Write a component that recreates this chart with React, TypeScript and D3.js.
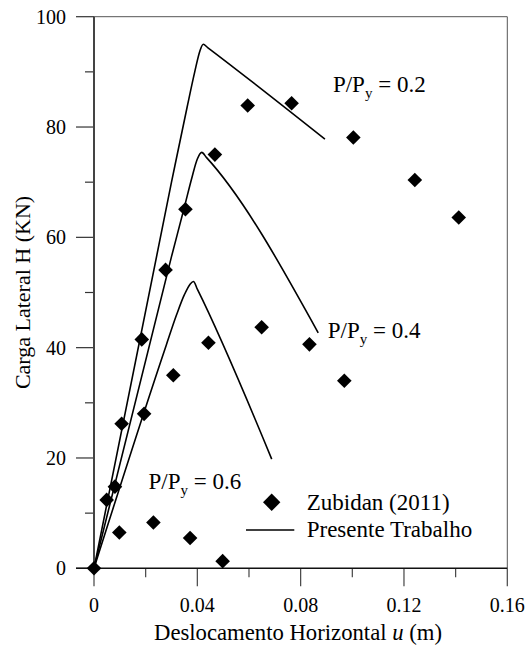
import React from "react";
import * as d3 from "d3";

// Zubidan (2011) experimental points: displacement u (m) and lateral load H (kN)
const zubidanU = [
  0, 0.0049, 0.0081, 0.0098, 0.0107, 0.0185, 0.0194, 0.023, 0.0277, 0.0307,
  0.0354, 0.0372, 0.0443, 0.0468, 0.0498, 0.0595, 0.0649, 0.0765, 0.0834,
  0.0969, 0.1004, 0.1242, 0.1412,
];
const zubidanH = [
  0, 12.4, 14.8, 6.5, 26.2, 41.5, 28.0, 8.3, 54.1, 35.0, 65.1, 5.5, 40.9, 75.0,
  1.3, 83.9, 43.7, 84.3, 40.6, 34.0, 78.1, 70.4, 63.6,
];

// Numerical curves (Presente Trabalho) for each axial load ratio
const curve02U = [0, 0.03, 0.036, 0.039, 0.041, 0.0423, 0.044, 0.0894];
const curve02H = [0, 70, 83.5, 90, 93.8, 95, 94.4, 77.8];
const curve04U = [0, 0.03, 0.035, 0.038, 0.04, 0.0417, 0.0435, 0.0868];
const curve04H = [0, 56.5, 65.5, 71, 74.2, 75.4, 74.5, 42.7];
const curve06U = [0, 0.028, 0.032, 0.035, 0.0372, 0.0385, 0.04, 0.0688];
const curve06H = [0, 40.5, 46, 49.6, 51.5, 52.0, 50.6, 19.8];

const xTicks = [0, 0.04, 0.08, 0.12, 0.16];
const xMinor = [0.02, 0.06, 0.1, 0.14];
const yTicks = [0, 20, 40, 60, 80, 100];
const yMinor = [10, 30, 50, 70, 90];

const ratioLabels = [
  { value: "0.2", u: 0.0925, h: 86.3 },
  { value: "0.4", u: 0.0905, h: 41.7 },
  { value: "0.6", u: 0.0211, h: 14.3 },
];

const W = 527;
const H = 649;
const left = 94;
const right = 507.3;
const top = 16.7;
const bottom = 568.3;
const FONT = "'Liberation Serif', 'Times New Roman', serif";

export default function App() {
  const x = d3.scaleLinear().domain([0, 0.16]).range([left, right]);
  const y = d3.scaleLinear().domain([0, 100]).range([bottom, top]);

  const line = d3
    .line<[number, number]>()
    .x((d) => x(d[0]))
    .y((d) => y(d[1]))
    .curve(d3.curveMonotoneX);

  const curves = [
    d3.zip(curve02U, curve02H) as [number, number][],
    d3.zip(curve04U, curve04H) as [number, number][],
    d3.zip(curve06U, curve06H) as [number, number][],
  ];

  const diamond = (cx: number, cy: number, r: number) =>
    `M${cx},${cy - r}L${cx + r},${cy}L${cx},${cy + r}L${cx - r},${cy}Z`;

  return (
    <svg
      width={W}
      height={H}
      style={{ position: "absolute", left: 0, top: 0, background: "#fff", fontFamily: FONT }}
    >
      {/* frame */}
      <line x1={left} x2={right} y1={top} y2={top} stroke="#555" strokeWidth={1} />
      <line x1={right} x2={right} y1={top} y2={bottom} stroke="#555" strokeWidth={1} />

      {/* y ticks */}
      {yTicks.map((t) => (
        <g key={"yt" + t}>
          <line x1={left - 18} x2={left} y1={y(t)} y2={y(t)} stroke="#333" strokeWidth={1.2} />
          <text x={66} y={y(t)} dy="0.35em" textAnchor="end" fontSize={20} fill="#000">
            {t}
          </text>
        </g>
      ))}
      {yMinor.map((t) => (
        <line key={"ym" + t} x1={left - 9} x2={left} y1={y(t)} y2={y(t)} stroke="#333" strokeWidth={1.2} />
      ))}

      {/* x ticks */}
      {xTicks.map((t) => (
        <g key={"xt" + t}>
          <line x1={x(t)} x2={x(t)} y1={bottom} y2={bottom + 18} stroke="#444" strokeWidth={1.2} />
          <text x={x(t)} y={612} textAnchor="middle" fontSize={20} fill="#000">
            {t === 0 ? "0" : d3.format(".2f")(t)}
          </text>
        </g>
      ))}
      {xMinor.map((t) => (
        <line key={"xm" + t} x1={x(t)} x2={x(t)} y1={bottom} y2={bottom + 9} stroke="#444" strokeWidth={1.2} />
      ))}

      {/* axes */}
      <line x1={left} x2={left} y1={top} y2={bottom} stroke="#444" strokeWidth={2} />
      <line x1={left - 18} x2={right} y1={bottom} y2={bottom} stroke="#111" strokeWidth={1.4} />

      {/* axis titles */}
      <text x={298} y={640} textAnchor="middle" fontSize={22.7} fill="#000">
        Deslocamento Horizontal <tspan fontStyle="italic">u</tspan> (m)
      </text>
      <text
        transform={`translate(30,${(top + bottom) / 2}) rotate(-90)`}
        textAnchor="middle"
        fontSize={22}
        fill="#000"
      >
        Carga Lateral H (KN)
      </text>

      {/* numerical curves */}
      {curves.map((c, i) => (
        <path key={"c" + i} d={line(c) ?? ""} fill="none" stroke="#000" strokeWidth={1.6} />
      ))}

      {/* experimental points */}
      {zubidanU.map((u, i) => (
        <path key={"p" + i} d={diamond(x(u), y(zubidanH[i]), 7.3)} fill="#000" />
      ))}

      {/* load ratio labels */}
      {ratioLabels.map((l) => (
        <text key={l.value} x={x(l.u)} y={y(l.h)} fontSize={23} fill="#000">
          P/P
          <tspan fontSize={15} dy={6}>y</tspan>
          <tspan dy={-6}> = {l.value}</tspan>
        </text>
      ))}

      {/* legend */}
      <path d={diamond(271.7, 502.3, 8.7)} fill="#000" />
      <text x={306.7} y={509.5} fontSize={23} fill="#000">
        Zubidan (2011)
      </text>
      <line x1={246} x2={294.3} y1={530} y2={530} stroke="#000" strokeWidth={1.6} />
      <text x={306.7} y={537} fontSize={23} fill="#000">
        Presente Trabalho
      </text>
    </svg>
  );
}
